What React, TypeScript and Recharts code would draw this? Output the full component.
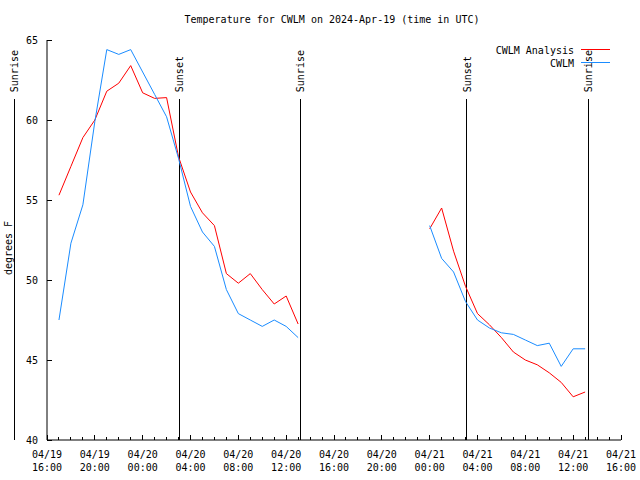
import { LineChart, Line, XAxis, YAxis, ReferenceLine } from "recharts";

// hours after 04/19 16:00 UTC
const hourOffsets = [
  1, 2, 3, 4, 5, 6, 7, 8, 9, 10, 11, 12, 13, 14, 15, 16, 17, 18, 19, 20, 21,
  32, 33, 34, 35, 36, 37, 38, 39, 40, 41, 42, 43, 44, 45,
];
const analysisTemps = [
  55.3, 57.1, 58.9, 60.0, 61.8, 62.3, 63.4, 61.7, 61.35, 61.4, 57.7, 55.5, 54.2, 53.4, 50.4, 49.8, 50.4, 49.4, 48.5, 49.0, 47.25,
  53.2, 54.5, 51.8, 49.6, 47.9, 47.2, 46.4, 45.5, 45.0, 44.7, 44.2, 43.6, 42.7, 43.0,
];
const cwlmTemps = [
  47.5, 52.3, 54.7, 59.9, 64.4, 64.1, 64.4, 63.0, 61.6, 60.2, 57.6, 54.6, 53.0, 52.1, 49.4, 47.9, 47.5, 47.1, 47.5, 47.1, 46.4,
  53.4, 51.35, 50.5, 48.65, 47.5, 47.0, 46.7, 46.6, 46.25, 45.9, 46.05, 44.6, 45.7, 45.7,
];

const tickDates = ["04/19", "04/19", "04/20", "04/20", "04/20", "04/20", "04/20", "04/20", "04/21", "04/21", "04/21", "04/21", "04/21"];
const tickTimes = ["16:00", "20:00", "00:00", "04:00", "08:00", "12:00", "16:00", "20:00", "00:00", "04:00", "08:00", "12:00", "16:00"];
const yTicks = [40, 45, 50, 55, 60, 65];

const sunEvents = [
  { name: "Sunrise", hour: -2.72 },
  { name: "Sunset", hour: 11.07 },
  { name: "Sunrise", hour: 21.17 },
  { name: "Sunset", hour: 35.12 },
  { name: "Sunrise", hour: 45.27 },
];

const FONT = "'DejaVu Sans Mono', monospace";
const RED = "#ff0000";
const BLUE = "#1a8cff";

// build rows, with a null row where the record has a gap
const rows: any[] = [];
hourOffsets.forEach((h, i) => {
  rows.push({ h, analysis: analysisTemps[i], cwlm: cwlmTemps[i] });
  const next = hourOffsets[i + 1];
  if (next !== undefined && next - h > 1) rows.push({ h: (h + next) / 2, analysis: null, cwlm: null });
});

const hourlyTicks = Array.from({ length: 49 }, (_, i) => i);
const evenTicks = hourlyTicks.filter((h) => h % 2 === 0);

function BottomTick(props: any) {
  const { x, y, payload } = props;
  const h = payload.value;
  const major = h % 4 === 0;
  return (
    <g>
      <line x1={x} x2={x} y1={y} y2={y - (major ? 5 : 3)} stroke="#000" shapeRendering="crispEdges" />
      {major && (
        <text x={x} y={y + 18} textAnchor="middle" fontSize={10} fontFamily={FONT} fill="#000">
          <tspan x={x}>{tickDates[h / 4]}</tspan>
          <tspan x={x} dy={13}>{tickTimes[h / 4]}</tspan>
        </text>
      )}
    </g>
  );
}

function TopTick(props: any) {
  const { x, y } = props;
  return <line x1={x} x2={x} y1={y} y2={y + 4} stroke="#000" shapeRendering="crispEdges" />;
}

function LeftTick(props: any) {
  const { x, y, payload } = props;
  return (
    <g>
      <line x1={x} x2={x + 5} y1={y} y2={y} stroke="#000" shapeRendering="crispEdges" />
      <text x={x - 9} y={y} dy={3.5} textAnchor="end" fontSize={10} fontFamily={FONT} fill="#000">
        {payload.value}
      </text>
    </g>
  );
}

function RightTick(props: any) {
  const { x, y } = props;
  return <line x1={x} x2={x - 5} y1={y} y2={y} stroke="#000" shapeRendering="crispEdges" />;
}

function SunLabel(props: any) {
  const { viewBox, text } = props;
  const x = viewBox.x;
  const y = viewBox.y - 7;
  return (
    <text
      x={x}
      y={y}
      dy={4}
      transform={`rotate(-90, ${x}, ${y})`}
      textAnchor="start"
      fontSize={10}
      fontFamily={FONT}
      fill="#000"
    >
      {text}
    </text>
  );
}

export default function App() {
  return (
    <div style={{ position: "absolute", left: 0, top: 0, width: 640, height: 480, background: "#fff" }}>
      <LineChart width={640} height={480} data={rows} margin={{ top: 40, right: 19, bottom: 0, left: 0 }}>
        <XAxis
          dataKey="h"
          type="number"
          domain={[0, 48]}
          ticks={hourlyTicks}
          interval={0}
          height={40}
          tickSize={0}
          tickMargin={0}
          axisLine={{ stroke: "#000" }}
          tick={<BottomTick />}
        />
        <XAxis
          xAxisId="top"
          orientation="top"
          type="number"
          domain={[0, 48]}
          ticks={evenTicks}
          interval={0}
          height={0}
          tickSize={0}
          tickMargin={0}
          axisLine={{ stroke: "#000" }}
          tick={<TopTick />}
        />
        <YAxis
          type="number"
          domain={[40, 65]}
          ticks={yTicks}
          interval={0}
          width={47}
          tickSize={0}
          tickMargin={0}
          axisLine={{ stroke: "#000" }}
          tick={<LeftTick />}
        />
        <YAxis
          yAxisId="right"
          orientation="right"
          type="number"
          domain={[40, 65]}
          ticks={yTicks}
          interval={0}
          width={0}
          tickSize={0}
          tickMargin={0}
          axisLine={{ stroke: "#000" }}
          tick={<RightTick />}
        />
        {sunEvents.map((ev, i) => (
          <ReferenceLine
            key={i}
            segment={[{ x: ev.hour, y: 40 }, { x: ev.hour, y: 61.3 }]}
            stroke="#000"
            strokeWidth={1}
            ifOverflow="visible"
            shapeRendering="crispEdges"
            label={<SunLabel text={ev.name} />}
          />
        ))}
        <Line
          dataKey="analysis"
          type="linear"
          stroke={RED}
          strokeWidth={1}
          dot={false}
          connectNulls={false}
          isAnimationActive={false}
        />
        <Line
          dataKey="cwlm"
          type="linear"
          stroke={BLUE}
          strokeWidth={1}
          dot={false}
          connectNulls={false}
          isAnimationActive={false}
        />
      </LineChart>
      <svg
        width={640}
        height={480}
        style={{ position: "absolute", left: 0, top: 0, pointerEvents: "none" }}
        fontFamily={FONT}
        fontSize={10}
      >
        <text x={332} y={22.5} textAnchor="middle" fill="#000">
          Temperature for CWLM on 2024-Apr-19 (time in UTC)
        </text>
        <text x={12} y={248} transform="rotate(-90, 12, 248)" textAnchor="middle" fill="#000">
          degrees F
        </text>
        <text x={574} y={53.5} textAnchor="end" fill="#000">CWLM Analysis</text>
        <line x1={581} x2={610} y1={49.5} y2={49.5} stroke={RED} />
        <text x={574} y={66.5} textAnchor="end" fill="#000">CWLM</text>
        <line x1={581} x2={610} y1={62.5} y2={62.5} stroke={BLUE} />
      </svg>
    </div>
  );
}
